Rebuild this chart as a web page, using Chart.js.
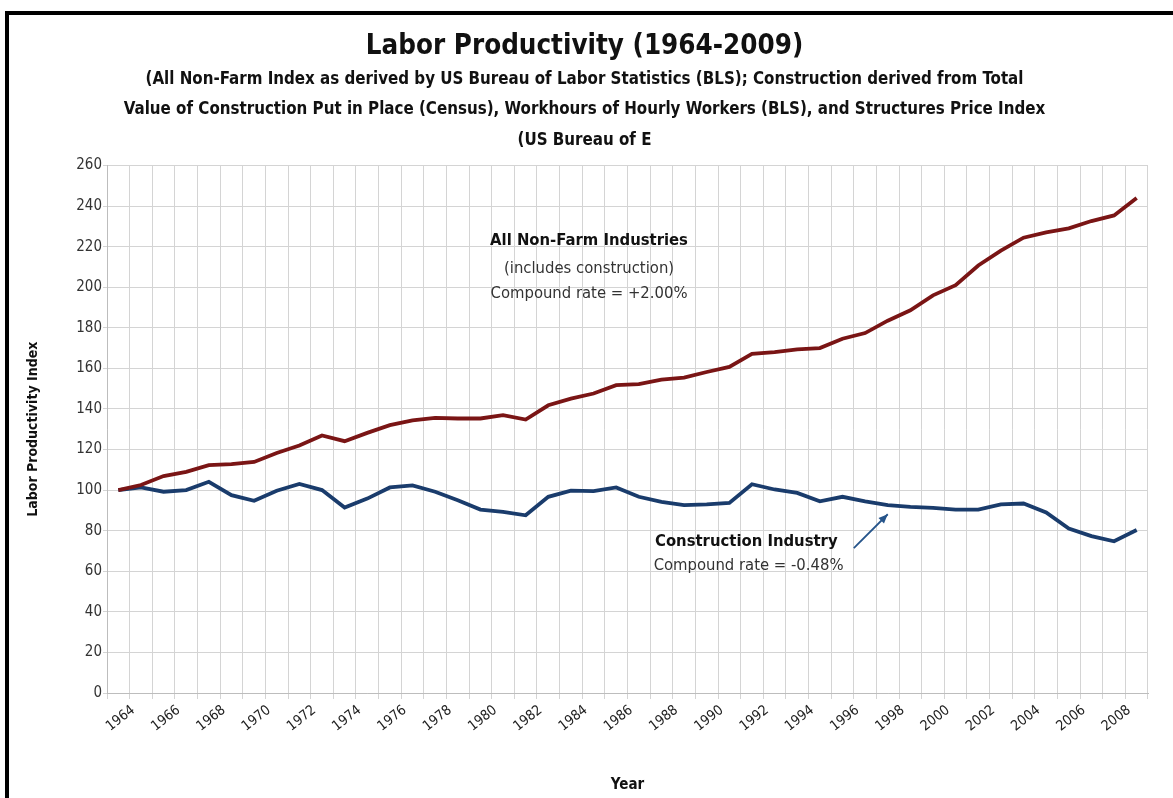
<!DOCTYPE html>
<html>
<head>
<meta charset="utf-8">
<title>Labor Productivity (1964-2009)</title>
<script src="https://cdn.jsdelivr.net/npm/chart.js@4.4.0/dist/chart.umd.min.js"></script>
<style>
  html, body { margin: 0; padding: 0; background: #fff; overflow: hidden; }
  #frame { position: absolute; left: 5px; top: 11px; width: 1168px; height: 787px; border-left: 4px solid #000; border-top: 4px solid #000; }
  #wrap { position: absolute; left: 9px; top: 15px; width: 1164px; height: 783px; }
</style>
</head>
<body>
<div id="frame"></div>
<div id="wrap"><canvas id="myChart"></canvas></div>
<script>
// values (index, 1964 = 100)
var years = [1964, 1965, 1966, 1967, 1968, 1969, 1970, 1971, 1972, 1973,
             1974, 1975, 1976, 1977, 1978, 1979, 1980, 1981, 1982, 1983,
             1984, 1985, 1986, 1987, 1988, 1989, 1990, 1991, 1992, 1993,
             1994, 1995, 1996, 1997, 1998, 1999, 2000, 2001, 2002, 2003,
             2004, 2005, 2006, 2007, 2008, 2009];
var nonFarm = [100, 102.5, 106.9, 109, 112.3, 112.8, 113.9, 118.3, 122, 126.9,
               124.1, 128.2, 132, 134.4, 135.6, 135.3, 135.3, 136.9, 134.8, 141.8,
               145.1, 147.6, 151.7, 152.2, 154.4, 155.4, 158.2, 160.7, 167.2, 168,
               169.4, 170, 174.6, 177.4, 183.5, 188.6, 196, 201, 210.7, 218,
               224.4, 227, 229, 232.6, 235.4, 244];
var construction = [100, 101.3, 99.2, 100, 104.1, 97.5, 94.7, 99.7, 103, 100,
                    91.4, 95.8, 101.3, 102.3, 99.2, 95, 90.4, 89.3, 87.6, 96.7,
                    99.7, 99.5, 101.3, 96.7, 94.2, 92.6, 93, 93.7, 102.9, 100.3,
                    98.6, 94.5, 96.7, 94.5, 92.6, 91.7, 91.2, 90.4, 90.4, 93,
                    93.4, 89, 81.1, 77.3, 74.8, 80.3];
var yMin = 0, yMax = 260, yStep = 20;

var titleText = 'Labor Productivity (1964-2009)';
var subtitleLines = [
    '(All Non-Farm Index as derived by US Bureau of Labor Statistics (BLS); Construction derived from Total',
    'Value of Construction Put in Place (Census), Workhours of Hourly Workers (BLS), and Structures Price Index',
    '(US Bureau of E'
];

var FONT = "'Liberation Sans Narrow', 'DejaVu Sans Condensed', 'Liberation Sans', sans-serif";

// text notes inside the plot, placed in axis units (category index, value)
var notes = [
    { text: 'All Non-Farm Industries', x: 20.8, y: 223, bold: true },
    { text: '(includes construction)', x: 20.8, y: 209, bold: false },
    { text: 'Compound rate = +2.00%', x: 20.8, y: 197, bold: false },
    { text: 'Construction Industry', x: 27.75, y: 74.8, bold: true },
    { text: 'Compound rate = -0.48%', x: 27.85, y: 62.5, bold: false }
];
var arrow = { x1: 32.5, y1: 71.4, x2: 34.0, y2: 88.1 };

var notesPlugin = {
    id: 'notes',
    afterDatasetsDraw: function (chart) {
        var ctx = chart.ctx;
        var xs = chart.scales.x, ys = chart.scales.y;
        ctx.save();
        ctx.textAlign = 'center';
        ctx.textBaseline = 'middle';
        notes.forEach(function (n) {
            ctx.font = (n.bold ? 'bold ' : '') + '16.5px ' + FONT;
            ctx.fillStyle = n.bold ? '#111' : '#333';
            ctx.fillText(n.text, xs.getPixelForValue(n.x), ys.getPixelForValue(n.y));
        });
        var ax1 = xs.getPixelForValue(arrow.x1), ay1 = ys.getPixelForValue(arrow.y1);
        var ax2 = xs.getPixelForValue(arrow.x2), ay2 = ys.getPixelForValue(arrow.y2);
        var ang = Math.atan2(ay2 - ay1, ax2 - ax1);
        ctx.strokeStyle = '#25548a';
        ctx.fillStyle = '#25548a';
        ctx.lineWidth = 1.8;
        ctx.beginPath();
        ctx.moveTo(ax1, ay1);
        ctx.lineTo(ax2, ay2);
        ctx.stroke();
        ctx.beginPath();
        ctx.moveTo(ax2, ay2);
        ctx.lineTo(ax2 - 10 * Math.cos(ang - 0.4), ay2 - 10 * Math.sin(ang - 0.4));
        ctx.lineTo(ax2 - 10 * Math.cos(ang + 0.4), ay2 - 10 * Math.sin(ang + 0.4));
        ctx.closePath();
        ctx.fill();
        ctx.restore();
    }
};

var ctx = document.getElementById('myChart').getContext('2d');
var myChart = new Chart(ctx, {
    type: 'line',
    data: {
        labels: years,
        datasets: [{
            label: 'All Non-Farm Industries',
            data: nonFarm,
            borderColor: '#7a1515',
            borderWidth: 3.8,
            pointRadius: 0,
            tension: 0
        }, {
            label: 'Construction Industry',
            data: construction,
            borderColor: '#1a3c6c',
            borderWidth: 3.8,
            pointRadius: 0,
            tension: 0
        }]
    },
    options: {
        responsive: true,
        maintainAspectRatio: false,
        animation: false,
        layout: { padding: { left: 12, right: 25, top: 0, bottom: 0 } },
        plugins: {
            legend: { display: false },
            tooltip: { enabled: false },
            title: {
                display: true,
                text: titleText,
                color: '#111',
                font: { family: FONT, size: 27.5, weight: 'bold', lineHeight: 1.3 },
                padding: { top: 14, bottom: 0 }
            },
            subtitle: {
                display: true,
                text: subtitleLines,
                color: '#111',
                font: { family: FONT, size: 16.8, weight: 'bold', lineHeight: 1.8 },
                padding: { top: 0, bottom: 10 }
            }
        },
        scales: {
            x: {
                offset: true,
                grid: { offset: true, color: '#d4d4d4', tickLength: 6 },
                border: { color: '#bdbdbd' },
                ticks: {
                    autoSkip: false,
                    minRotation: 38,
                    maxRotation: 38,
                    labelOffset: 15,
                    color: '#222',
                    font: { family: FONT, size: 14 },
                    callback: function (val, i) { return i % 2 === 0 ? years[i] : ''; }
                },
                title: {
                    display: true,
                    text: 'Year',
                    color: '#111',
                    font: { family: FONT, size: 15, weight: 'bold' }
                },
                afterFit: function (scale) { scale.height = 105; }
            },
            y: {
                min: yMin,
                max: yMax,
                grid: { color: '#d4d4d4', tickLength: 4 },
                border: { color: '#bdbdbd' },
                ticks: {
                    stepSize: yStep,
                    padding: 1,
                    color: '#333',
                    font: { family: FONT, size: 15 }
                },
                title: {
                    display: true,
                    text: 'Labor Productivity Index',
                    color: '#111',
                    font: { family: FONT, size: 14, weight: 'bold' }
                },
                afterFit: function (scale) { scale.width = 86; }
            }
        }
    },
    plugins: [notesPlugin]
});
</script>
</body>
</html>
